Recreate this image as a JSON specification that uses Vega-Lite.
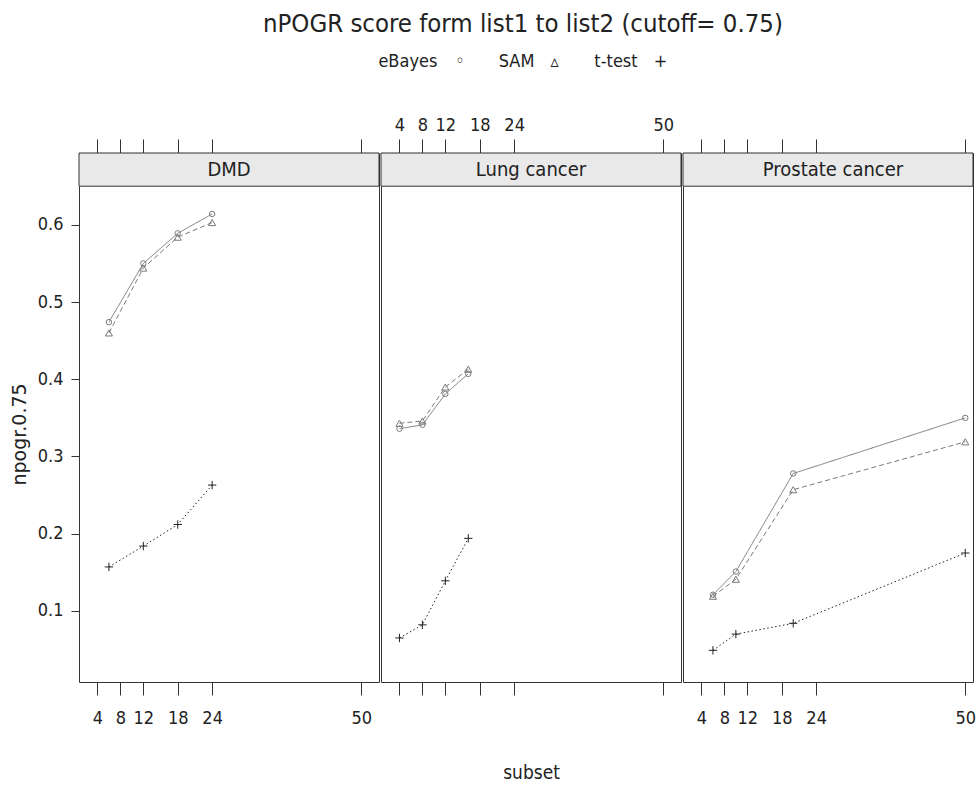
{
  "$schema": "https://vega.github.io/schema/vega-lite/v6.json",
  "background": "white",
  "padding": {"left": 9, "top": 12, "right": 0, "bottom": 0},
  "title": {
    "text": "nPOGR score form list1 to list2 (cutoff= 0.75)",
    "subtitle": "eBayes\u2003\u200A\u25E6\u2003\u2003\u200ASAM\u2003\u25B5\u2003\u2003\u2009t-test\u2003+",
    "fontSize": 25.5, "font": "'DejaVu Sans Condensed', sans-serif", "fontWeight": "normal", "color": "#222222",
    "subtitleFontSize": 18, "subtitleFont": "'DejaVu Sans Condensed', sans-serif", "subtitleColor": "#222222", "subtitlePadding": 15,
    "anchor": "middle", "dx": 30, "offset": 45
  },
  "datasets": {
    "scores": [
      {"panel": "DMD", "method": "eBayes", "subset": 6, "npogr": 0.474},
      {"panel": "DMD", "method": "eBayes", "subset": 12, "npogr": 0.550},
      {"panel": "DMD", "method": "eBayes", "subset": 18, "npogr": 0.589},
      {"panel": "DMD", "method": "eBayes", "subset": 24, "npogr": 0.614},
      {"panel": "DMD", "method": "SAM", "subset": 6, "npogr": 0.460},
      {"panel": "DMD", "method": "SAM", "subset": 12, "npogr": 0.544},
      {"panel": "DMD", "method": "SAM", "subset": 18, "npogr": 0.584},
      {"panel": "DMD", "method": "SAM", "subset": 24, "npogr": 0.603},
      {"panel": "DMD", "method": "t-test", "subset": 6, "npogr": 0.157},
      {"panel": "DMD", "method": "t-test", "subset": 12, "npogr": 0.184},
      {"panel": "DMD", "method": "t-test", "subset": 18, "npogr": 0.212},
      {"panel": "DMD", "method": "t-test", "subset": 24, "npogr": 0.263},
      {"panel": "Lung cancer", "method": "eBayes", "subset": 4, "npogr": 0.336},
      {"panel": "Lung cancer", "method": "eBayes", "subset": 8, "npogr": 0.341},
      {"panel": "Lung cancer", "method": "eBayes", "subset": 12, "npogr": 0.381},
      {"panel": "Lung cancer", "method": "eBayes", "subset": 16, "npogr": 0.407},
      {"panel": "Lung cancer", "method": "SAM", "subset": 4, "npogr": 0.343},
      {"panel": "Lung cancer", "method": "SAM", "subset": 8, "npogr": 0.346},
      {"panel": "Lung cancer", "method": "SAM", "subset": 12, "npogr": 0.390},
      {"panel": "Lung cancer", "method": "SAM", "subset": 16, "npogr": 0.413},
      {"panel": "Lung cancer", "method": "t-test", "subset": 4, "npogr": 0.065},
      {"panel": "Lung cancer", "method": "t-test", "subset": 8, "npogr": 0.082},
      {"panel": "Lung cancer", "method": "t-test", "subset": 12, "npogr": 0.139},
      {"panel": "Lung cancer", "method": "t-test", "subset": 16, "npogr": 0.194},
      {"panel": "Prostate cancer", "method": "eBayes", "subset": 6, "npogr": 0.121},
      {"panel": "Prostate cancer", "method": "eBayes", "subset": 10, "npogr": 0.151},
      {"panel": "Prostate cancer", "method": "eBayes", "subset": 20, "npogr": 0.278},
      {"panel": "Prostate cancer", "method": "eBayes", "subset": 50, "npogr": 0.350},
      {"panel": "Prostate cancer", "method": "SAM", "subset": 6, "npogr": 0.119},
      {"panel": "Prostate cancer", "method": "SAM", "subset": 10, "npogr": 0.141},
      {"panel": "Prostate cancer", "method": "SAM", "subset": 20, "npogr": 0.257},
      {"panel": "Prostate cancer", "method": "SAM", "subset": 50, "npogr": 0.319},
      {"panel": "Prostate cancer", "method": "t-test", "subset": 6, "npogr": 0.049},
      {"panel": "Prostate cancer", "method": "t-test", "subset": 10, "npogr": 0.070},
      {"panel": "Prostate cancer", "method": "t-test", "subset": 20, "npogr": 0.084},
      {"panel": "Prostate cancer", "method": "t-test", "subset": 50, "npogr": 0.175}
    ]
  },
  "spacing": 0,
  "hconcat": [
    {
      "width": 300, "height": 529,
      "layer": [
        {
          "data": {"values": [{"panel": "DMD"}]},
          "mark": {"type": "rect", "fill": "#e9e9e9", "stroke": "#333333", "strokeWidth": 1},
          "encoding": {
            "x": {"datum": 0.78, "type": "quantitative", "scale": {"domain": [0.78, 53.1], "nice": false, "zero": false}, "axis": null},
            "x2": {"datum": 53.1},
            "y": {"datum": 0.650, "type": "quantitative", "scale": {"domain": [0.008, 0.693], "nice": false, "zero": false}, "axis": null},
            "y2": {"datum": 0.693}
          }
        },
        {
          "data": {"values": [{"panel": "DMD"}]},
          "mark": {"type": "text", "baseline": "middle", "fontSize": 20, "font": "'DejaVu Sans Condensed', sans-serif", "color": "#222222"},
          "encoding": {
            "x": {"datum": 26.94, "type": "quantitative", "axis": null},
            "y": {"datum": 0.6715, "type": "quantitative", "axis": null},
            "text": {"field": "panel"}
          }
        },
        {
          "data": {"name": "scores"},
          "transform": [{"filter": "datum.panel == 'DMD'"}],
          "mark": {"type": "line", "strokeWidth": 1},
          "encoding": {
            "x": {"field": "subset", "type": "quantitative", "scale": {"domain": [0.78, 53.1], "nice": false, "zero": false},
                  "axis": {"orient": "bottom", "values": [4, 8, 12, 18, 24, 50], "tickSize": 13, "labelPadding": 14, "title": null}},
            "y": {"field": "npogr", "type": "quantitative", "scale": {"domain": [0.008, 0.693], "nice": false, "zero": false},
                  "axis": {"orient": "left", "values": [0.1, 0.2, 0.3, 0.4, 0.5, 0.6], "format": ".1f", "tickSize": 8, "labelPadding": 8, "title": "npogr.0.75", "titleY": 281, "titlePadding": 8, "titleFont": "DejaVu Sans", "titleFontSize": 19, "titleFontWeight": "normal", "titleColor": "#222222"}},
            "color": {"field": "method", "type": "nominal", "scale": {"domain": ["eBayes", "SAM", "t-test"], "range": ["#7a7a7a", "#7a7a7a", "#222222"]}, "legend": null},
            "strokeDash": {"field": "method", "type": "nominal", "scale": {"domain": ["eBayes", "SAM", "t-test"], "range": [[1, 0], [5, 3], [1.5, 2.5]]}, "legend": null}
          }
        },
        {
          "data": {"name": "scores"},
          "transform": [{"filter": "datum.panel == 'DMD'"}],
          "mark": {"type": "point", "filled": false, "strokeWidth": 1, "opacity": 1},
          "encoding": {
            "x": {"field": "subset", "type": "quantitative", "scale": {"domain": [0.78, 53.1], "nice": false, "zero": false},
                  "axis": {"orient": "top", "values": [4, 8, 12, 18, 24, 50], "tickSize": 14, "labelPadding": 5, "labelColor": "transparent", "title": null}},
            "y": {"field": "npogr", "type": "quantitative", "axis": null},
            "shape": {"field": "method", "type": "nominal", "scale": {"domain": ["eBayes", "SAM", "t-test"], "range": ["circle", "triangle-up", "M-1,0H1M0,-1V1"]}, "legend": null},
            "color": {"field": "method", "type": "nominal", "scale": {"domain": ["eBayes", "SAM", "t-test"], "range": ["#7a7a7a", "#7a7a7a", "#222222"]}, "legend": null},
            "size": {"field": "method", "type": "nominal", "scale": {"domain": ["eBayes", "SAM", "t-test"], "range": [30, 70, 160]}, "legend": null}
          }
        }
      ],
      "resolve": {"axis": {"x": "independent", "y": "independent"}}
    },
    {
      "width": 300, "height": 529,
      "layer": [
        {
          "data": {"values": [{"panel": "Lung cancer"}]},
          "mark": {"type": "rect", "fill": "#e9e9e9", "stroke": "#333333", "strokeWidth": 1},
          "encoding": {
            "x": {"datum": 0.78, "type": "quantitative", "scale": {"domain": [0.78, 53.1], "nice": false, "zero": false}, "axis": null},
            "x2": {"datum": 53.1},
            "y": {"datum": 0.650, "type": "quantitative", "scale": {"domain": [0.008, 0.693], "nice": false, "zero": false}, "axis": null},
            "y2": {"datum": 0.693}
          }
        },
        {
          "data": {"values": [{"panel": "Lung cancer"}]},
          "mark": {"type": "text", "baseline": "middle", "fontSize": 20, "font": "'DejaVu Sans Condensed', sans-serif", "color": "#222222"},
          "encoding": {
            "x": {"datum": 26.94, "type": "quantitative", "axis": null},
            "y": {"datum": 0.6715, "type": "quantitative", "axis": null},
            "text": {"field": "panel"}
          }
        },
        {
          "data": {"name": "scores"},
          "transform": [{"filter": "datum.panel == 'Lung cancer'"}],
          "mark": {"type": "line", "strokeWidth": 1},
          "encoding": {
            "x": {"field": "subset", "type": "quantitative", "scale": {"domain": [0.78, 53.1], "nice": false, "zero": false},
                  "axis": {"orient": "bottom", "values": [4, 8, 12, 18, 24, 50], "tickSize": 13, "labelPadding": 14, "labelColor": "transparent", "title": "subset", "titlePadding": 36, "titleFont": "'DejaVu Sans Condensed', sans-serif", "titleFontSize": 19, "titleFontWeight": "normal", "titleColor": "#222222"}},
            "y": {"field": "npogr", "type": "quantitative", "scale": {"domain": [0.008, 0.693], "nice": false, "zero": false}, "axis": null},
            "color": {"field": "method", "type": "nominal", "scale": {"domain": ["eBayes", "SAM", "t-test"], "range": ["#7a7a7a", "#7a7a7a", "#222222"]}, "legend": null},
            "strokeDash": {"field": "method", "type": "nominal", "scale": {"domain": ["eBayes", "SAM", "t-test"], "range": [[1, 0], [5, 3], [1.5, 2.5]]}, "legend": null}
          }
        },
        {
          "data": {"name": "scores"},
          "transform": [{"filter": "datum.panel == 'Lung cancer'"}],
          "mark": {"type": "point", "filled": false, "strokeWidth": 1, "opacity": 1},
          "encoding": {
            "x": {"field": "subset", "type": "quantitative", "scale": {"domain": [0.78, 53.1], "nice": false, "zero": false},
                  "axis": {"orient": "top", "values": [4, 8, 12, 18, 24, 50], "tickSize": 14, "labelPadding": 5, "title": null}},
            "y": {"field": "npogr", "type": "quantitative", "axis": null},
            "shape": {"field": "method", "type": "nominal", "scale": {"domain": ["eBayes", "SAM", "t-test"], "range": ["circle", "triangle-up", "M-1,0H1M0,-1V1"]}, "legend": null},
            "color": {"field": "method", "type": "nominal", "scale": {"domain": ["eBayes", "SAM", "t-test"], "range": ["#7a7a7a", "#7a7a7a", "#222222"]}, "legend": null},
            "size": {"field": "method", "type": "nominal", "scale": {"domain": ["eBayes", "SAM", "t-test"], "range": [30, 70, 160]}, "legend": null}
          }
        }
      ],
      "resolve": {"axis": {"x": "independent", "y": "independent"}}
    },
    {
      "width": 290, "height": 529,
      "layer": [
        {
          "data": {"values": [{"panel": "Prostate cancer"}]},
          "mark": {"type": "rect", "fill": "#e9e9e9", "stroke": "#333333", "strokeWidth": 1},
          "encoding": {
            "x": {"datum": 0.78, "type": "quantitative", "scale": {"domain": [0.78, 51.35], "nice": false, "zero": false}, "axis": null},
            "x2": {"datum": 51.35},
            "y": {"datum": 0.650, "type": "quantitative", "scale": {"domain": [0.008, 0.693], "nice": false, "zero": false}, "axis": null},
            "y2": {"datum": 0.693}
          }
        },
        {
          "data": {"values": [{"panel": "Prostate cancer"}]},
          "mark": {"type": "text", "baseline": "middle", "fontSize": 20, "font": "'DejaVu Sans Condensed', sans-serif", "color": "#222222"},
          "encoding": {
            "x": {"datum": 26.94, "type": "quantitative", "axis": null},
            "y": {"datum": 0.6715, "type": "quantitative", "axis": null},
            "text": {"field": "panel"}
          }
        },
        {
          "data": {"name": "scores"},
          "transform": [{"filter": "datum.panel == 'Prostate cancer'"}],
          "mark": {"type": "line", "strokeWidth": 1},
          "encoding": {
            "x": {"field": "subset", "type": "quantitative", "scale": {"domain": [0.78, 51.35], "nice": false, "zero": false},
                  "axis": {"orient": "bottom", "values": [4, 8, 12, 18, 24, 50], "tickSize": 13, "labelPadding": 14, "title": null}},
            "y": {"field": "npogr", "type": "quantitative", "scale": {"domain": [0.008, 0.693], "nice": false, "zero": false}, "axis": null},
            "color": {"field": "method", "type": "nominal", "scale": {"domain": ["eBayes", "SAM", "t-test"], "range": ["#7a7a7a", "#7a7a7a", "#222222"]}, "legend": null},
            "strokeDash": {"field": "method", "type": "nominal", "scale": {"domain": ["eBayes", "SAM", "t-test"], "range": [[1, 0], [5, 3], [1.5, 2.5]]}, "legend": null}
          }
        },
        {
          "data": {"name": "scores"},
          "transform": [{"filter": "datum.panel == 'Prostate cancer'"}],
          "mark": {"type": "point", "filled": false, "strokeWidth": 1, "opacity": 1},
          "encoding": {
            "x": {"field": "subset", "type": "quantitative", "scale": {"domain": [0.78, 51.35], "nice": false, "zero": false},
                  "axis": {"orient": "top", "values": [4, 8, 12, 18, 24, 50], "tickSize": 14, "labelPadding": 5, "labelColor": "transparent", "title": null}},
            "y": {"field": "npogr", "type": "quantitative", "axis": null},
            "shape": {"field": "method", "type": "nominal", "scale": {"domain": ["eBayes", "SAM", "t-test"], "range": ["circle", "triangle-up", "M-1,0H1M0,-1V1"]}, "legend": null},
            "color": {"field": "method", "type": "nominal", "scale": {"domain": ["eBayes", "SAM", "t-test"], "range": ["#7a7a7a", "#7a7a7a", "#222222"]}, "legend": null},
            "size": {"field": "method", "type": "nominal", "scale": {"domain": ["eBayes", "SAM", "t-test"], "range": [30, 70, 160]}, "legend": null}
          }
        }
      ],
      "resolve": {"axis": {"x": "independent", "y": "independent"}}
    }
  ],
  "config": {
    "view": {"stroke": "#333333", "strokeWidth": 1},
    "axis": {
      "domain": false, "grid": false,
      "tickColor": "#333333", "tickWidth": 1,
      "labelFont": "'DejaVu Sans Condensed', sans-serif",
      "labelFontSize": 18, "labelColor": "#222222", "labelFlush": false, "labelOverlap": false
    }
  }
}
